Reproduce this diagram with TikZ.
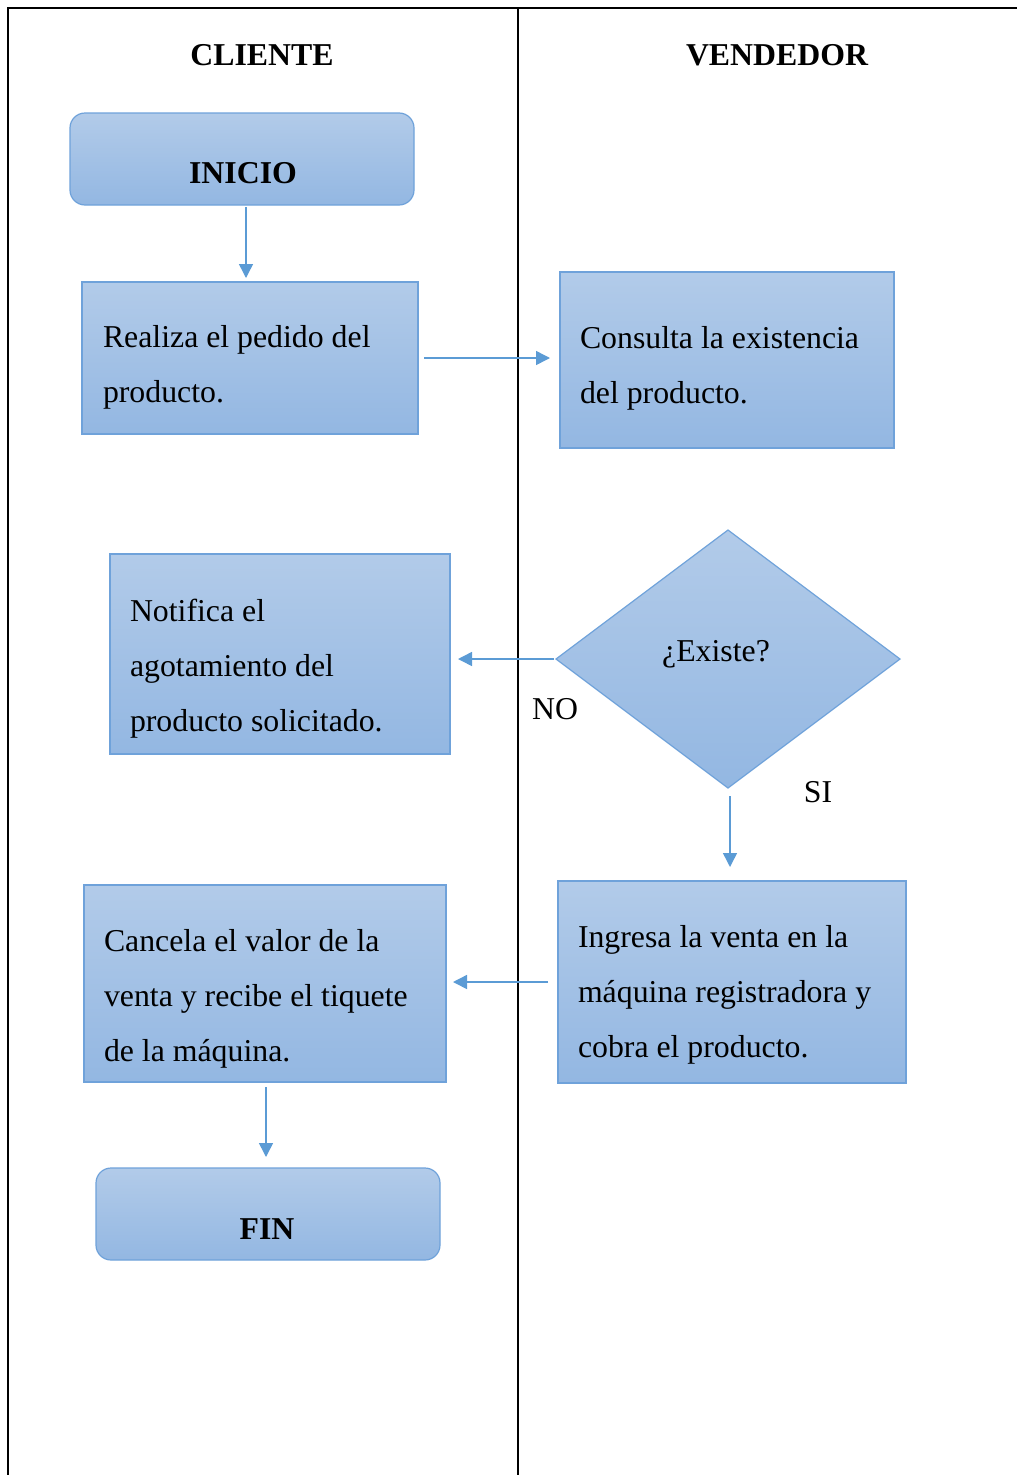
\documentclass[tikz,border=0pt]{standalone}
\usepackage{fontspec}
\setmainfont{Liberation Serif}
\usetikzlibrary{shapes.geometric,arrows.meta}
\definecolor{boxtop}{HTML}{B2CBE9}
\definecolor{boxbot}{HTML}{93B7E2}
\definecolor{boxline}{HTML}{6FA2DA}
\definecolor{arrcol}{HTML}{5B9BD5}
\tikzset{
  box/.style={draw=boxline, line width=1.2pt, top color=boxtop, bottom color=boxbot, inner sep=0pt, outer sep=0pt},
  rbox/.style={box, rounded corners=15pt},
  txt/.style={font=\fontsize{31.8}{55}\selectfont, inner sep=0pt, outer sep=0pt, align=left, anchor=base west},
  ctxt/.style={font=\fontsize{31.8}{55}\selectfont, inner sep=0pt, outer sep=0pt, anchor=base},
  btxt/.style={ctxt, font=\fontsize{31.8}{55}\selectfont\bfseries},
  arr/.style={draw=arrcol, line width=1.5pt, -{Triangle[width=14pt,length=14pt]}},
  frame/.style={draw=black, line width=2.5pt}
}
\begin{document}
\begin{tikzpicture}[x=1pt,y=-1pt]
\useasboundingbox (0,0) rectangle (1017,1475);
% frame
\coordinate (tl) at (8,8);
\coordinate (tr) at (1017,8);
\coordinate (bl) at (8,1475);
\coordinate (mt) at (518,8);
\coordinate (mb) at (518,1475);
\draw[frame] (tr) -- (tl) -- (bl);
\draw[frame, line width=2pt] (mt) -- (mb);
% headers
\node[btxt] (hcli) at (262,65) {CLIENTE};
\node[btxt] (hven) at (777,65) {VENDEDOR};
% boxes
\node[rbox, minimum width=344pt, minimum height=92pt] (inicio) at (242,159) {};
\node[btxt] (tinicio) at (243,183) {INICIO};
\node[box, minimum width=336pt, minimum height=152pt] (realiza) at (250,358) {};
\node[txt] (trealiza) at (103,402) {Realiza el pedido del\\producto.};
\node[box, minimum width=334pt, minimum height=176pt] (consulta) at (727,360) {};
\node[txt] (tconsulta) at (580,403) {Consulta la existencia\\del producto.};
\node[diamond, draw=boxline, line width=1.2pt, top color=boxtop, bottom color=boxbot, inner sep=0pt, outer sep=0pt, minimum width=344pt, minimum height=258pt] (existe) at (728,659) {};
\node[ctxt] (texiste) at (716,661) {¿Existe?};
\node[box, minimum width=340pt, minimum height=200pt] (notifica) at (280,654) {};
\node[txt] (tnotifica) at (130,731) {Notifica el\\agotamiento del\\producto solicitado.};
\node[box, minimum width=348pt, minimum height=202pt] (ingresa) at (732,982) {};
\node[txt] (tingresa) at (578,1057) {Ingresa la venta en la\\máquina registradora y\\cobra el producto.};
\node[box, minimum width=362pt, minimum height=197pt] (cancela) at (265,983.5) {};
\node[txt] (tcancela) at (104,1061) {Cancela el valor de la\\venta y recibe el tiquete\\de la máquina.};
\node[rbox, minimum width=344pt, minimum height=92pt] (fin) at (268,1214) {};
\node[btxt] (tfin) at (267,1239) {FIN};
% labels
\node[ctxt] (lno) at (555,719) {NO};
\node[ctxt] (lsi) at (818,802) {SI};
% arrows
\draw[arr, shorten <=2pt, shorten >=4pt] (inicio.south -| 246,0) -- (realiza.north -| 246,0);
\draw[arr, shorten <=6pt, shorten >=10pt] (realiza.east) -- (realiza.east -| consulta.west);
\draw[arr, shorten <=2pt, shorten >=8pt] (existe.west) -- (existe.west -| notifica.east);
\draw[arr, shorten <=8pt, shorten >=14pt] (existe.south -| 730,0) -- (ingresa.north -| 730,0);
\draw[arr, shorten <=10pt, shorten >=7pt] (ingresa.west) -- (ingresa.west -| cancela.east);
\draw[arr, shorten <=5pt, shorten >=11pt] (cancela.south -| 266,0) -- (fin.north -| 266,0);
\end{tikzpicture}
\end{document}
